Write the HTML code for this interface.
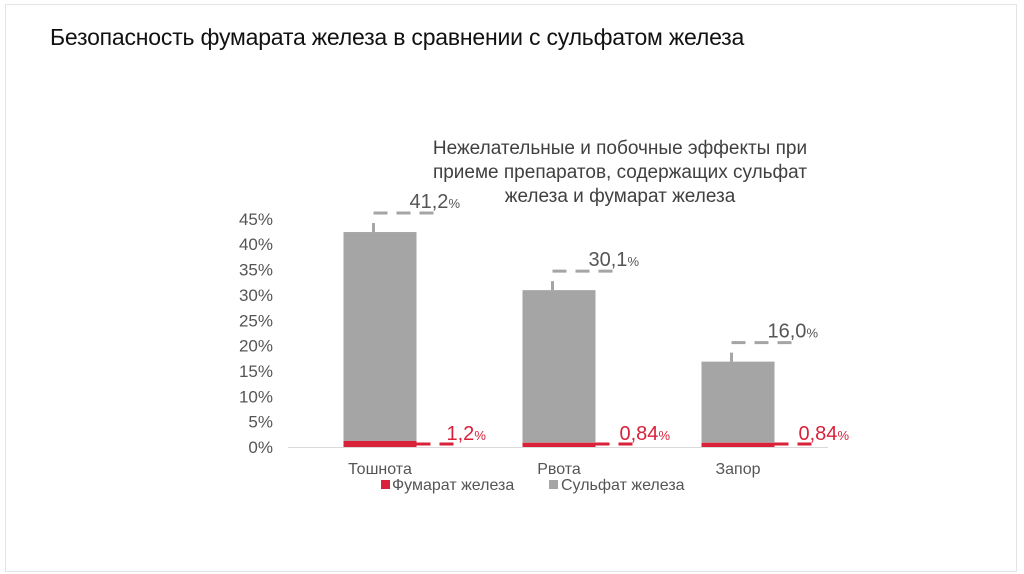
<!DOCTYPE html>
<html><head><meta charset="utf-8"><style>
body{margin:0;background:#fff;}
#wrap{position:relative;width:1024px;height:574px;overflow:hidden;font-family:"Liberation Sans",sans-serif;}
#frame{position:absolute;left:5px;top:4px;width:1010px;height:566px;border:1px solid #e4e4e4;}
#title{position:absolute;left:50px;top:24px;font-size:23px;color:#111;letter-spacing:-0.2px;}
</style></head><body>
<div id="wrap">
<div id="frame"></div>
<div id="title">Безопасность фумарата железа в сравнении с сульфатом железа</div>
<svg id="chart" width="1024" height="574" style="position:absolute;left:0;top:0"></svg>
</div>
<script>
const categories=["Тошнота","Рвота","Запор"];
const fumarate=[1.2,0.84,0.84];
const sulfate=[41.2,30.1,16.0];
const fumLabels=["1,2","0,84","0,84"];
const sulLabels=["41,2","30,1","16,0"];
const yTicks=[0,5,10,15,20,25,30,35,40,45];
const svg=document.getElementById('chart');
const NS='http://www.w3.org/2000/svg';
const x0=288,x1=828,y0=447,pxPer=5.07;
const catW=(x1-x0)/categories.length,barW=73;
const y=v=>y0-v*pxPer;
const xc=i=>x0+catW*(i+0.5);
function mk(t,a,txt){const e=document.createElementNS(NS,t);for(const k in a)e.setAttribute(k,a[k]);if(txt!=null)e.textContent=txt;svg.appendChild(e);return e;}
const tl=["Нежелательные и побочные эффекты при","приеме препаратов, содержащих сульфат","железа и фумарат железа"];
tl.forEach((s,i)=>{const e=mk('text',{x:620,y:154+i*24,'text-anchor':'middle','font-size':19,fill:'#404040'},s);

});
yTicks.forEach(v=>{const e=mk('text',{x:273,y:y(v)+6,'text-anchor':'end','font-size':17,fill:'#555'},v+'%');

});
const ax=mk('line',{x1:x0,x2:x1,y1:y0+0.5,y2:y0+0.5,stroke:'#d9d9d9','stroke-width':1});


categories.forEach((c,i)=>{
 const bx=xc(i)-barW/2+(i==0?2:i==1?1:0);
 const top=fumarate[i]+sulfate[i];
 const g=mk('rect',{x:bx,y:y(top),width:barW,height:y(fumarate[i])-y(top),fill:'#a5a5a5'});
 
 
 const r=mk('rect',{x:bx,y:y(fumarate[i]),width:barW,height:y0-y(fumarate[i]),fill:'#d9213a'});
 
 
 const ex=bx+30,ly=y(top)-19;
 const eb=mk('line',{x1:ex,x2:ex,y1:y(top),y2:y(top)-9,stroke:'#a5a5a5','stroke-width':3});
 
 
 const dl=mk('line',{x1:ex,x2:ex+62,y1:ly,y2:ly,stroke:'#a5a5a5','stroke-width':3,'stroke-dasharray':'14 9'});
 
 
 const st=mk('text',{x:ex+36,y:ly-5,'font-size':20,fill:'#555'});
 
 
 st.innerHTML=sulLabels[i]+'<tspan font-size="13">%</tspan>';
 const rd=mk('line',{x1:bx+barW,x2:bx+barW+42,y1:y0-3,y2:y0-3,stroke:'#d9213a','stroke-width':3,'stroke-dasharray':'14 9'});
 
 
 const ft=mk('text',{x:bx+barW+(i==0?30:24),y:y0-7,'font-size':20,fill:'#d9213a'});
 
 
 ft.innerHTML=fumLabels[i]+'<tspan font-size="13">%</tspan>';
 const cl=mk('text',{x:bx+barW/2,y:474,'text-anchor':'middle','font-size':16,fill:'#555'},c);
 
 
});
const l1=mk('rect',{x:381,y:480,width:9,height:9,fill:'#d9213a'});


const t1=mk('text',{x:392,y:490,'font-size':16,fill:'#555'},'Фумарат железа');


const l2=mk('rect',{x:549,y:480,width:9,height:9,fill:'#a5a5a5'});


const t2=mk('text',{x:561,y:490,'font-size':16,fill:'#555'},'Сульфат железа');


</script>
</body></html>
